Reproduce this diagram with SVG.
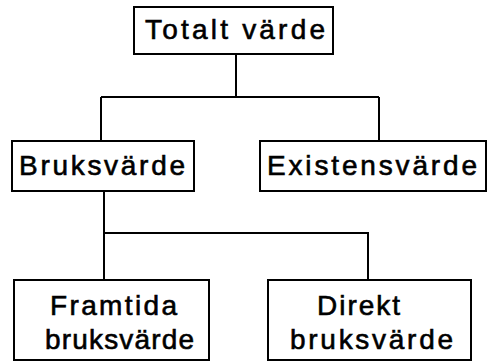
<svg xmlns="http://www.w3.org/2000/svg" width="489" height="361" viewBox="0 0 489 361">
<style>
.box{fill:#fff;stroke:#000;stroke-width:2}
.ln{fill:none;stroke:#000;stroke-width:2}
text{font-family:"Liberation Sans",Arial,sans-serif;font-size:28px;fill:#000;stroke:#000;stroke-width:0.6}
</style>
<rect width="489" height="361" fill="#fff"/>
<g id="connectors">
<path class="ln" d="M236,54 V97 M101,97 H379 M101,97 V141 M379,97 V141"/>
<path class="ln" d="M104,191 V233 H368 V280 M104,233 V280"/>
</g>
<g id="totalt">
<rect class="box" x="134" y="7" width="199" height="47"/>
<text x="145" y="39" textLength="180" lengthAdjust="spacing">Totalt värde</text>
</g>
<g id="bruks">
<rect class="box" x="12" y="141" width="182" height="50"/>
<text x="19" y="175" textLength="166" lengthAdjust="spacing">Bruksvärde</text>
</g>
<g id="existens">
<rect class="box" x="260" y="141" width="226" height="50"/>
<text x="267" y="175" textLength="210" lengthAdjust="spacing">Existensvärde</text>
</g>
<g id="framtida">
<rect class="box" x="14" y="280" width="195" height="80"/>
<text x="50" y="315" textLength="127" lengthAdjust="spacing">Framtida</text>
<text x="45" y="349" textLength="149" lengthAdjust="spacing">bruksvärde</text>
</g>
<g id="direkt">
<rect class="box" x="268" y="280" width="203" height="80"/>
<text x="317" y="315" textLength="83" lengthAdjust="spacing">Direkt</text>
<text x="290" y="349" textLength="163" lengthAdjust="spacing">bruksvärde</text>
</g>
</svg>
